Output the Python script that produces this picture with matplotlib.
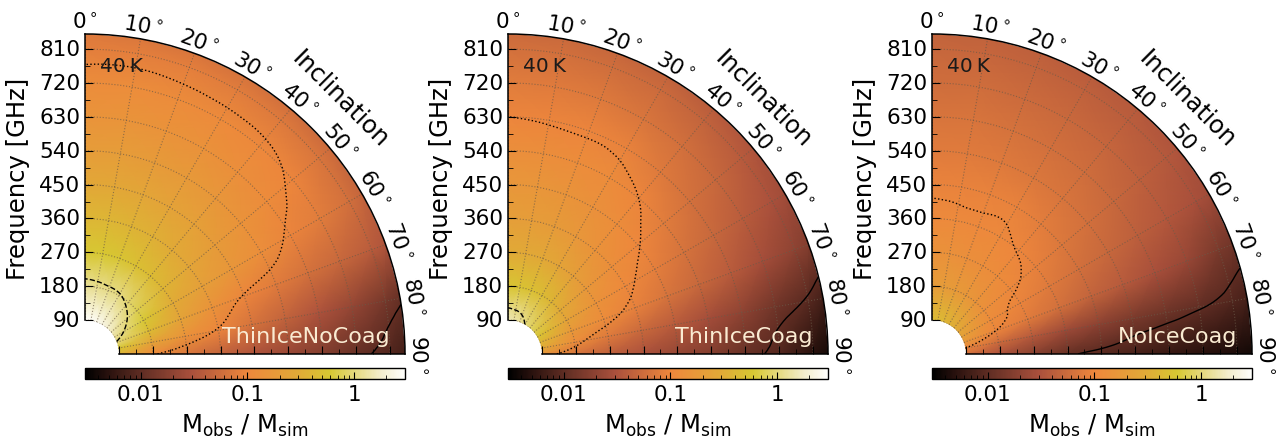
# ==========================================================
# Razão de massa observada / simulada em função da
# inclinação e da frequência (três modelos de gelo)
# ==========================================================

import numpy as np
import matplotlib
matplotlib.use("Agg")
import matplotlib.pyplot as plt
import matplotlib.tri as mtri
from matplotlib.colors import LogNorm, LinearSegmentedColormap

# ==========================================================
# DADOS
# ==========================================================

INCLINACOES = [0, 10, 20, 30, 40, 50, 60, 70, 80, 90]          # graus
FREQUENCIAS = [90, 180, 270, 360, 450, 540, 630, 720, 810, 850]  # GHz

MODELOS = ["ThinIceNoCoag", "ThinIceCoag", "NoIceCoag"]

# uma linha por inclinação, uma coluna por frequência
RAZAO_THIN_NOCOAG = [
    [3.0, 1.20, 0.60, 0.40, 0.280, 0.200, 0.150, 0.120, 0.085, 0.075],
    [2.8, 1.15, 0.58, 0.39, 0.270, 0.200, 0.150, 0.120, 0.085, 0.072],
    [2.6, 1.10, 0.55, 0.37, 0.260, 0.190, 0.145, 0.115, 0.083, 0.070],
    [2.3, 1.05, 0.50, 0.34, 0.240, 0.180, 0.140, 0.112, 0.080, 0.066],
    [2.0, 0.90, 0.45, 0.30, 0.220, 0.165, 0.130, 0.108, 0.075, 0.060],
    [1.6, 0.75, 0.38, 0.26, 0.190, 0.145, 0.115, 0.095, 0.070, 0.055],
    [1.25, 0.60, 0.30, 0.21, 0.160, 0.125, 0.094, 0.080, 0.060, 0.048],
    [0.95, 0.45, 0.24, 0.14, 0.097, 0.078, 0.062, 0.050, 0.040, 0.033],
    [0.60, 0.25, 0.14, 0.095, 0.065, 0.045, 0.032, 0.022, 0.014, 0.011],
    [0.35, 0.11, 0.07, 0.045, 0.032, 0.023, 0.017, 0.0115, 0.0085, 0.007],
]

RAZAO_THIN_COAG = [
    [1.50, 0.55, 0.30, 0.21, 0.165, 0.130, 0.100, 0.080, 0.062, 0.055],
    [1.40, 0.53, 0.29, 0.20, 0.160, 0.125, 0.097, 0.078, 0.060, 0.053],
    [1.25, 0.50, 0.28, 0.19, 0.150, 0.120, 0.095, 0.075, 0.058, 0.050],
    [1.00, 0.45, 0.25, 0.17, 0.135, 0.115, 0.090, 0.070, 0.054, 0.047],
    [0.85, 0.38, 0.21, 0.145, 0.118, 0.100, 0.075, 0.060, 0.046, 0.040],
    [0.70, 0.30, 0.17, 0.125, 0.102, 0.080, 0.062, 0.050, 0.038, 0.033],
    [0.55, 0.24, 0.14, 0.107, 0.085, 0.064, 0.050, 0.040, 0.030, 0.026],
    [0.40, 0.17, 0.115, 0.088, 0.066, 0.050, 0.038, 0.028, 0.020, 0.017],
    [0.30, 0.12, 0.075, 0.052, 0.038, 0.028, 0.020, 0.013, 0.0092, 0.007],
    [0.15, 0.065, 0.042, 0.030, 0.022, 0.017, 0.0115, 0.0088, 0.005, 0.004],
]

RAZAO_NOICE_COAG = [
    [0.45, 0.20, 0.14, 0.110, 0.094, 0.078, 0.068, 0.058, 0.050, 0.046],
    [0.43, 0.195, 0.137, 0.109, 0.092, 0.077, 0.067, 0.057, 0.049, 0.045],
    [0.40, 0.185, 0.130, 0.108, 0.090, 0.075, 0.065, 0.055, 0.047, 0.043],
    [0.36, 0.170, 0.124, 0.106, 0.090, 0.071, 0.061, 0.052, 0.044, 0.040],
    [0.32, 0.150, 0.115, 0.098, 0.082, 0.068, 0.058, 0.049, 0.041, 0.037],
    [0.27, 0.132, 0.106, 0.088, 0.072, 0.060, 0.051, 0.043, 0.036, 0.033],
    [0.22, 0.115, 0.094, 0.075, 0.060, 0.050, 0.042, 0.035, 0.029, 0.026],
    [0.17, 0.100, 0.078, 0.060, 0.046, 0.037, 0.029, 0.023, 0.015, 0.013],
    [0.10, 0.055, 0.036, 0.025, 0.019, 0.015, 0.0125, 0.0105, 0.0085, 0.0075],
    [0.06, 0.030, 0.018, 0.011, 0.009, 0.0075, 0.006, 0.005, 0.0042, 0.0038],
]

RAZOES = [RAZAO_THIN_NOCOAG, RAZAO_THIN_COAG, RAZAO_NOICE_COAG]

NIVEIS_CONTORNO = [0.01, 0.1, 1]
ESTILOS_CONTORNO = ["solid", "dotted", "dashed"]

# mapa de cores (preto -> marrom -> laranja -> amarelo -> branco)
CORES_VALORES = [0.003, 0.005, 0.01, 0.03, 0.1, 0.3, 0.6, 1.0, 1.8, 3.0]
CORES = ["#000000", "#2a120e", "#5f2d23", "#aa503c", "#ee873c",
         "#e1aa37", "#d7c832", "#e4d87a", "#f3edcc", "#fffffc"]

VMIN, VMAX = 0.003, 3.0
RMIN, RMAX = 90, 850

# ==========================================================
# CONFIGURAÇÕES
# ==========================================================

plt.rcParams["font.family"] = "DejaVu Sans"

LARGURA, ALTURA = 1276, 439
ORIGENS_X = [85, 508, 932]
RAIO_PX = 320
BASE_Y = 355


def criar_cmap():

    pos = [(np.log10(v) - np.log10(VMIN)) / (np.log10(VMAX) - np.log10(VMIN))
           for v in CORES_VALORES]

    return LinearSegmentedColormap.from_list("razao", list(zip(pos, CORES)))


# ==========================================================
# CONTORNOS SUAVES (refinamento do próprio matplotlib)
# ==========================================================

def malha_suave(razao):

    nt, nf = len(INCLINACOES), len(FREQUENCIAS)

    ii, jj = np.meshgrid(range(nt), range(nf), indexing="ij")
    idx = ii * nf + jj

    triangulos = []
    for i in range(nt - 1):
        for j in range(nf - 1):
            a, b = idx[i, j], idx[i + 1, j]
            c, d = idx[i + 1, j + 1], idx[i, j + 1]
            triangulos.append([a, b, c])
            triangulos.append([a, c, d])

    # coordenadas normalizadas só para o refinamento
    th, ff = np.meshgrid(INCLINACOES, FREQUENCIAS, indexing="ij")
    tri = mtri.Triangulation(th.ravel() / 90.0,
                             ff.ravel() / RMAX,
                             np.array(triangulos))

    campo = np.log10(np.array(razao, dtype=float)).ravel()

    refinador = mtri.UniformTriRefiner(tri)
    interp = mtri.CubicTriInterpolator(tri, campo, kind="min_E")
    tri_fina, campo_fino = refinador.refine_field(campo, interp, subdiv=3)

    tri_polar = mtri.Triangulation(np.radians(tri_fina.x * 90.0),
                                   tri_fina.y * RMAX,
                                   tri_fina.triangles)

    return tri_polar, campo_fino


# ==========================================================
# PAINEL
# ==========================================================

def painel(fig, x0, nome, razao, cmap, norm):

    ax = fig.add_axes(
        [x0 / LARGURA, (ALTURA - BASE_Y) / ALTURA,
         RAIO_PX / LARGURA, RAIO_PX / ALTURA],
        projection="polar"
    )

    ax.set_theta_zero_location("N")
    ax.set_theta_direction(-1)
    ax.set_thetamin(0)
    ax.set_thetamax(90)
    ax.set_rorigin(0)
    ax.set_rlim(RMIN, RMAX)

    th, rr = np.meshgrid(np.radians(INCLINACOES), FREQUENCIAS, indexing="ij")

    pc = ax.pcolormesh(th, rr, np.array(razao), shading="gouraud",
                       cmap=cmap, norm=norm, rasterized=True)

    tri, campo = malha_suave(razao)

    ax.tricontour(tri, campo,
                  levels=np.log10(NIVEIS_CONTORNO),
                  colors="k", linewidths=1.0,
                  linestyles=ESTILOS_CONTORNO)

    # grades e ticks
    ax.set_xticks(np.radians(INCLINACOES))
    ax.set_xticklabels([])
    ax.set_yticks(range(90, 811, 90))
    ax.set_yticks(range(135, 811, 90), minor=True)
    ax.set_yticklabels([str(v) for v in range(90, 811, 90)])

    ax.grid(True, color="#6b5a48", linestyle=":", linewidth=0.8, alpha=0.7)

    ax.tick_params(axis="y", which="both", direction="in",
                   labelsize=15.5, left=True, right=True,
                   labelleft=True, labelright=False)
    ax.tick_params(axis="y", which="major", length=6)
    ax.tick_params(axis="y", which="minor", length=3.5)
    ax.tick_params(axis="x", which="major", direction="in", length=5)

    for sp in ax.spines.values():
        sp.set_linewidth(1.1)

    # sem arco interno
    ax.spines["inner"].set_color("none")
    ax.spines["inner"].set_linewidth(0)
    ax.xaxis.set_tick_params(tick2On=False)

    # rótulos de ângulo
    for inc in INCLINACOES:
        ax.text(np.radians(inc), 882, r"$%d^\circ$" % inc,
                rotation=-inc, rotation_mode="anchor",
                ha="center", va="center", fontsize=15.5, clip_on=False)

    ax.text(np.radians(45), 958, "Inclination", rotation=-45,
            rotation_mode="anchor", ha="center", va="center",
            fontsize=17.5, clip_on=False)

    ax.text(-0.21, 0.55, "Frequency [GHz]", rotation=90,
            transform=ax.transAxes, ha="center", va="center", fontsize=17.5)

    ax.text(0.047, 0.9, "40\u2009K", transform=ax.transAxes,
            ha="left", va="center", fontsize=14.5, color="#1a1a1a")

    ax.text(0.953, 0.056, nome, transform=ax.transAxes,
            ha="right", va="center", fontsize=16, color="#faebd2")

    # barra de cores
    cax = fig.add_axes(
        [x0 / LARGURA, (ALTURA - 380) / ALTURA,
         RAIO_PX / LARGURA, 11 / ALTURA]
    )

    cb = fig.colorbar(pc, cax=cax, orientation="horizontal")
    cb.set_ticks([0.01, 0.1, 1])
    cb.set_ticklabels(["0.01", "0.1", "1"])
    cb.ax.tick_params(which="both", direction="in", labelsize=15.5)
    cb.ax.tick_params(which="major", length=5)
    cb.ax.tick_params(which="minor", length=3)
    cb.outline.set_linewidth(1.0)
    cb.set_label(r"M$_\mathrm{obs}$ / M$_\mathrm{sim}$", fontsize=17.5,
                 labelpad=6)

    return ax


# ==========================================================
# PROGRAMA PRINCIPAL
# ==========================================================

def main():

    fig = plt.figure(figsize=(LARGURA / 100, ALTURA / 100), dpi=100)

    cmap = criar_cmap()
    norm = LogNorm(vmin=VMIN, vmax=VMAX)

    for x0, nome, razao in zip(ORIGENS_X, MODELOS, RAZOES):
        painel(fig, x0, nome, razao, cmap, norm)

    fig.savefig("out.png", dpi=100)


if __name__ == "__main__":

    main()
